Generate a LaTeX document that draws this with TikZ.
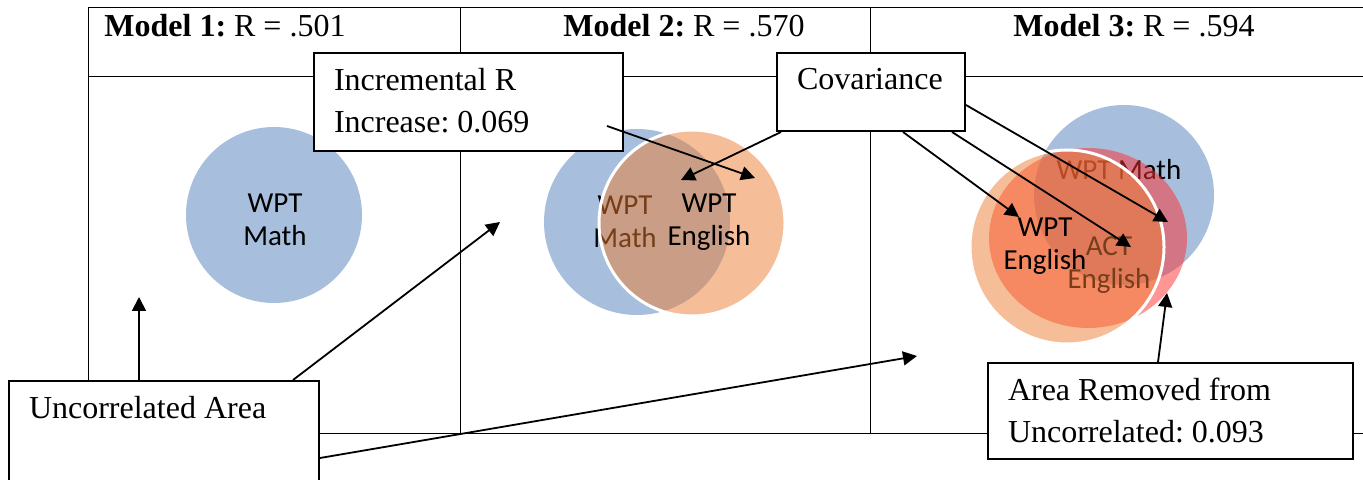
\documentclass[tikz,border=0pt]{standalone}
\usepackage{fontspec}
\setmainfont{Liberation Serif}
\newfontfamily\calibri{Carlito}
\usetikzlibrary{arrows.meta,shapes.geometric}
\definecolor{mathblue}{RGB}{167,191,221}
\definecolor{engorange}{RGB}{237,125,49}
\definecolor{actred}{RGB}{255,45,45}
\frenchspacing

\begin{document}
\begin{tikzpicture}[
  x=0.5pt, y=-0.5pt,
  tabline/.style={line width=0.5pt},
  hdr/.style={anchor=base west, inner sep=0pt, font=\fontsize{16}{19}\selectfont},
  venn/.style={circle, inner sep=0pt, minimum size=#1},
  bluec/.style={venn=#1, fill=mathblue},
  orangec/.style={venn=#1, fill=engorange, fill opacity=0.5, draw=white, line width=1.5pt},
  redc/.style={ellipse, inner sep=0pt, minimum width=99pt, minimum height=90pt, fill=actred, fill opacity=0.5},
  lbl/.style={align=center, inner sep=0pt, font=\calibri\fontsize{14.5}{16.5}\selectfont},
  box/.style={draw, fill=white, line width=1pt, anchor=north west, inner xsep=10pt, inner ysep=7.5pt, font=\fontsize{16}{21}\selectfont},
  arr/.style={-{Triangle[length=7pt,width=7pt]}, line width=0.9pt}
]
\useasboundingbox (0,0) rectangle (1363,480);

% table
\draw[tabline] (88,8) -- (1363,8);
\draw[tabline] (88,77) -- (1363,77);
\draw[tabline] (88,433) -- (1363,433);
\draw[tabline] (88,8) -- (88,433);
\draw[tabline] (460,8) -- (460,433);
\draw[tabline] (870,8) -- (870,433);

\node[hdr] (hd1) at (104,37) {\textbf{Model 1:} R = .501};
\node[hdr] (hd2) at (563,37) {\textbf{Model 2:} R = .570};
\node[hdr] (hd3) at (1013,37) {\textbf{Model 3:} R = .594};

% model 1
\node[bluec=88pt] (m1math) at (274,215) {};
\node[lbl] (m1mathlbl) at (275,220) {WPT\\Math};

% model 2
\node[bluec=93pt] (m2math) at (637,222) {};
\node[lbl] (m2mathlbl) at (625,222) {WPT\\Math};
\node[orangec=93pt] (m2eng) at (692,223) {};
\node[lbl] (m2englbl) at (709,222) {WPT\\English};

% model 3
\node[bluec=90pt] (m3math) at (1124,195) {};
\node[lbl] (m3mathlbl) at (1119,170) {WPT Math};
\node[redc] (m3act) at (1088,238) {};
\node[lbl] (m3actlbl) at (1109,265) {ACT\\English};
\node[orangec=97pt] (m3eng) at (1067,247) {};
\node[lbl] (m3englbl) at (1045,246) {WPT\\English};

% call-outs
\node[box] (incr) at (313,52) {\parbox[c][34pt][t]{134.5pt}{Incremental R\\Increase: 0.069}};
\node[box] (cov) at (776,52) {\parbox[c][24pt][t]{74pt}{\raggedright Covariance}};
\node[box] (unc) at (8,380) {\parbox[c][50pt][t]{135pt}{Uncorrelated Area}};
\node[box] (area) at (987,362) {\parbox[c][33pt][t]{162.5pt}{Area Removed from\\Uncorrelated: 0.093}};

\coordinate (u1) at (139,297);
\coordinate (u2) at (500,222);
\coordinate (u3) at (917,356);
\coordinate (i1) at (755,178);
\coordinate (c1) at (681,180);
\coordinate (c2) at (1019,217);
\coordinate (c3) at (1131,247);
\coordinate (c4) at (1168,222);
\coordinate (a1) at (1167,293);

\draw[arr] ([xshift=65.5pt]unc.north west) -- (u1);
\draw[arr] ([xshift=142.5pt]unc.north west) -- (u2);
\draw[arr] ([yshift=-39pt]unc.north east) -- (u3);
\draw[arr] ([xshift=147pt,yshift=-37pt]incr.north west) -- (i1);
\draw[arr] ([xshift=2.5pt]cov.south west) -- (c1);
\draw[arr] ([xshift=63.5pt]cov.south west) -- (c2);
\draw[arr] ([xshift=88pt]cov.south west) -- (c3);
\draw[arr] ([yshift=-26.5pt]cov.north east) -- (c4);
\draw[arr] ([xshift=85.5pt]area.north west) -- (a1);
\end{tikzpicture}
\end{document}
